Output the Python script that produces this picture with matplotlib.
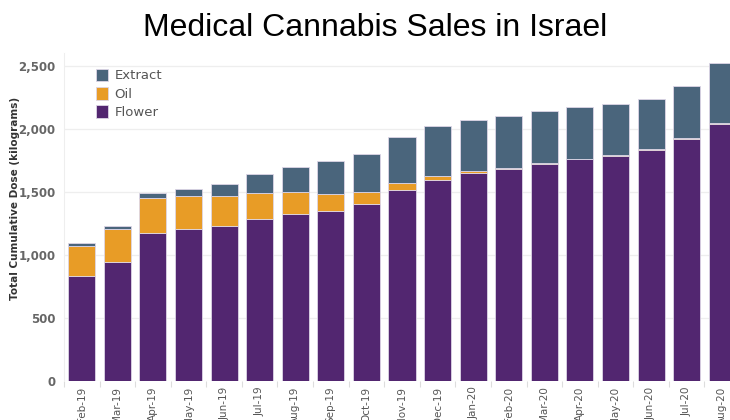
import numpy as np
import matplotlib.pyplot as plt

# ------------------------------
# Data (kilograms)
# ------------------------------
months = ["Feb-19", "Mar-19", "Apr-19", "May-19", "Jun-19", "Jul-19", "Aug-19",
          "Sep-19", "Oct-19", "Nov-19", "Dec-19", "Jan-20", "Feb-20", "Mar-20",
          "Apr-20", "May-20", "Jun-20", "Jul-20", "Aug-20"]
flower = [834, 942, 1177, 1204, 1233, 1284, 1326, 1352, 1408, 1514, 1596, 1648,
          1683, 1725, 1760, 1789, 1837, 1919, 2043]
oil = [238, 263, 278, 265, 236, 206, 175, 133, 93, 61, 34, 22,
       8, 5, 4, 8, 5, 6, 6]
extract = [26, 26, 40, 52, 92, 154, 201, 259, 304, 365, 397, 405,
           411, 411, 412, 400, 395, 420, 471]
yticks = [0, 500, 1000, 1500, 2000, 2500]

c_flower = "#522670"
c_oil = "#E89C26"
c_extract = "#4A657C"

# ------------------------------
# Plot
# ------------------------------
fig = plt.figure(figsize=(7.3, 4.2), dpi=100)
# axes runs a bit past the right edge, like the cropped original
ax = fig.add_axes([64 / 730, 39 / 420, 676 / 730, 0.78])

x = np.arange(len(months))
fl = np.array(flower)
oi = np.array(oil)
ex = np.array(extract)
w = 0.76
edge = dict(edgecolor="#ddd6e6", linewidth=0.6)

b1 = ax.bar(x, fl, width=w, color=c_flower, zorder=3, **edge)
b2 = ax.bar(x, oi, width=w, bottom=fl, color=c_oil, zorder=3, **edge)
b3 = ax.bar(x, ex, width=w, bottom=fl + oi, color=c_extract, zorder=3, **edge)

ax.set_xlim(-0.5, len(months) - 0.5)
ax.set_ylim(0, 2600)

ax.set_yticks(yticks)
ax.set_yticklabels([f"{v:,}" for v in yticks])
ax.tick_params(axis="y", length=0, pad=6, labelsize=8.5, labelcolor="#666666")
ax.yaxis.grid(True, color="#eeeeee", linewidth=0.9, zorder=0)

ax.set_xticks(x)
ax.set_xticklabels(months, rotation=90, fontsize=7.5, color="#555555")
ax.tick_params(axis="x", length=0, pad=4)
ax.set_xticks(np.arange(-0.5, len(months), 1.0), minor=True)
ax.tick_params(axis="x", which="minor", length=4, color="#dddddd", width=0.8)

for side in ["top", "right", "bottom"]:
    ax.spines[side].set_visible(False)
ax.spines["left"].set_color("#eeeeee")

for lab in ax.get_yticklabels():
    lab.set_fontweight("semibold")

leg = ax.legend([b3, b2, b1], ["Extract", "Oil", "Flower"],
                loc="upper left", bbox_to_anchor=(0.03, 0.99), frameon=False,
                fontsize=9.5, handlelength=0.9, handleheight=1.1,
                handletextpad=0.5, labelspacing=0.35)
for t in leg.get_texts():
    t.set_color("#555555")

fig.text(15 / 730, 1 - 198 / 420, "Total Cumulative Dose (kilograms)",
         rotation=90, ha="center", va="center", fontsize=7.5,
         fontweight="bold", color="#333333")

fig.text(375 / 730, 1 - 28 / 420, "Medical Cannabis Sales in Israel",
         ha="center", va="center", fontsize=23, family="Liberation Sans")

fig.savefig("out.png", dpi=100)
